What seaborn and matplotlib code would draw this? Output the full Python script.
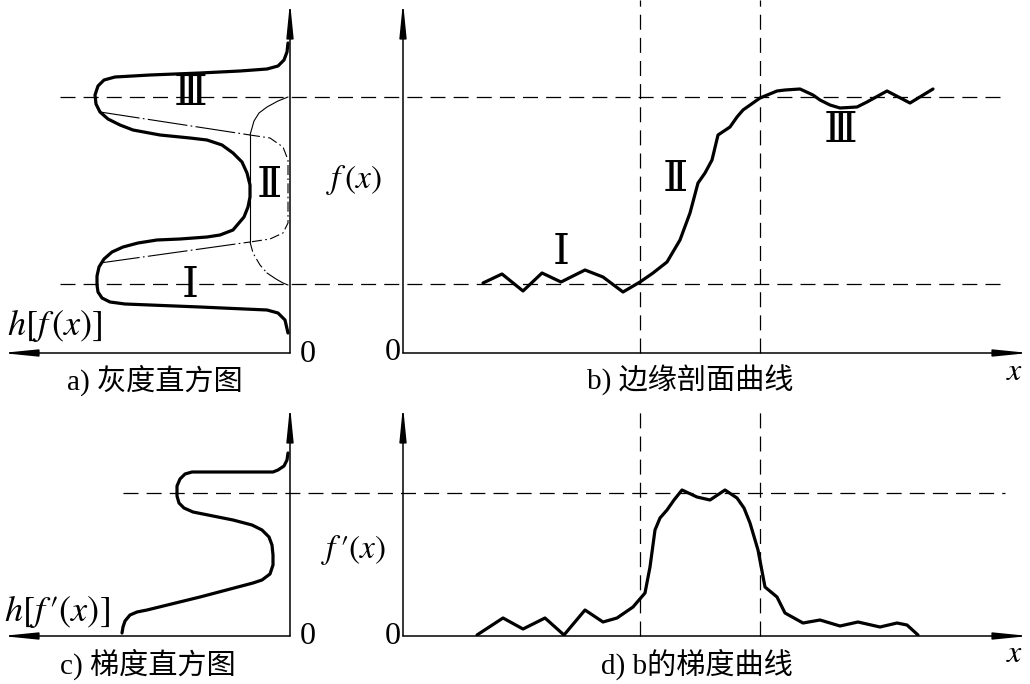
import matplotlib
matplotlib.use('Agg')
import matplotlib.pyplot as plt
import seaborn as sns

# a) grey level histogram: h (to the left) vs grey level f
hist_h = [0.02, 0.03, 0.06, 0.12, 0.23, 0.50, 0.90, 1.40, 1.75, 1.86, 1.92, 1.95, 1.94, 1.90, 1.82, 1.70,
          1.57, 1.30, 1.00, 0.83, 0.68, 0.57, 0.48, 0.43, 0.40, 0.40, 0.42, 0.46, 0.57, 0.70, 0.83, 1.10,
          1.33, 1.52, 1.67, 1.78, 1.86, 1.91, 1.93, 1.93, 1.92, 1.88, 1.80, 1.65, 0.90, 0.23, 0.12, 0.05,
          0.02]
hist_f = [3.10, 3.01, 2.93, 2.87, 2.84, 2.82, 2.80, 2.78, 2.76, 2.73, 2.67, 2.58, 2.49, 2.41, 2.34, 2.28,
          2.23, 2.18, 2.15, 2.13, 2.08, 2.00, 1.91, 1.80, 1.68, 1.56, 1.46, 1.36, 1.23, 1.18, 1.16, 1.14,
          1.13, 1.10, 1.06, 1.01, 0.94, 0.86, 0.77, 0.68, 0.61, 0.55, 0.51, 0.49, 0.46, 0.43, 0.40, 0.33,
          0.20]
# thin construction lines of region II inside the histogram
tan_top_h = [1.90, 0.40]
tan_top_f = [2.41, 2.18]
tan_bot_h = [1.90, 0.40]
tan_bot_f = [0.90, 1.11]
arc_top_h = [0.02, 0.12, 0.23, 0.31, 0.36, 0.40]
arc_top_f = [2.56, 2.52, 2.46, 2.40, 2.32, 2.18]
bump_h = [0.40, 0.20, 0.07, 0.02, 0.02, 0.07, 0.20, 0.40]
bump_f = [2.18, 2.15, 2.06, 1.93, 1.30, 1.20, 1.14, 1.11]
side_h = [0.40, 0.40]
side_f = [2.18, 1.11]
arc_bot_h = [0.40, 0.37, 0.30, 0.23]
arc_bot_f = [1.11, 1.00, 0.88, 0.80]
arc_bot2_h = [0.23, 0.14, 0.07, 0.02]
arc_bot2_f = [0.80, 0.74, 0.70, 0.68]

# b) edge profile
edge_x = [0.80, 0.99, 1.20, 1.39, 1.58, 1.82, 2.00, 2.20, 2.37, 2.50, 2.64, 2.77, 2.87, 2.95, 3.02, 3.09,
          3.15, 3.27, 3.34, 3.40, 3.57, 3.74, 3.82, 3.97, 4.10, 4.17, 4.27, 4.37, 4.54, 4.64, 4.84, 5.07,
          5.30]
edge_f = [0.70, 0.79, 0.62, 0.80, 0.71, 0.83, 0.76, 0.61, 0.71, 0.80, 0.91, 1.13, 1.40, 1.70, 1.80, 1.93,
          2.18, 2.26, 2.36, 2.43, 2.55, 2.62, 2.63, 2.64, 2.58, 2.53, 2.48, 2.45, 2.46, 2.51, 2.62, 2.50,
          2.64]
levels_f = [0.69, 2.56]
edge_bounds = [2.37, 3.57]

# c) gradient histogram
ghist_h = [0.02, 0.03, 0.06, 0.12, 0.17, 0.98, 1.05, 1.10, 1.13, 1.13, 1.11, 1.06, 0.97, 0.57, 0.38, 0.28,
           0.21, 0.18, 0.17, 0.17, 0.20, 0.28, 0.37, 0.90, 1.43, 1.53, 1.60, 1.65, 1.67, 1.68]
ghist_g = [1.83, 1.76, 1.70, 1.66, 1.64, 1.64, 1.62, 1.57, 1.50, 1.40, 1.33, 1.28, 1.24, 1.16, 1.11, 1.06,
           0.99, 0.91, 0.81, 0.71, 0.62, 0.56, 0.53, 0.39, 0.26, 0.24, 0.21, 0.15, 0.09, 0.03]

# d) gradient of b
grad_x = [0.74, 1.00, 1.20, 1.42, 1.61, 1.82, 2.00, 2.14, 2.30, 2.42, 2.47, 2.52, 2.57, 2.64, 2.71, 2.79,
          2.94, 3.07, 3.22, 3.34, 3.41, 3.47, 3.55, 3.62, 3.74, 3.82, 4.00, 4.17, 4.37, 4.55, 4.77, 4.94,
          5.04, 5.15]
grad_g = [0.01, 0.18, 0.07, 0.18, 0.01, 0.26, 0.14, 0.18, 0.29, 0.43, 0.69, 1.06, 1.18, 1.26, 1.36, 1.46,
          1.39, 1.36, 1.46, 1.38, 1.28, 1.13, 0.86, 0.49, 0.39, 0.23, 0.13, 0.16, 0.10, 0.14, 0.09, 0.13,
          0.11, 0.01]
peak_g = [1.43]

sns.set_theme(style='white')
plt.rcParams['font.family'] = ['Liberation Serif', 'DejaVu Serif', 'Noto Sans CJK SC']
plt.rcParams['mathtext.fontset'] = 'stix'

W, H = 1030, 684


def box(x0, y0, x1, y1):
    return [x0 / W, 1 - y1 / H, (x1 - x0) / W, (y1 - y0) / H]


def put(x, y, s, size=21, **kw):
    fig.text(x / W, 1 - y / H, s, ha='center', va='center', fontsize=size, color='black', **kw)


def arrow(ax, start, end):
    ax.annotate('', xy=end, xytext=start, annotation_clip=False,
                arrowprops=dict(arrowstyle='-|>,head_length=1.5,head_width=0.15', color='black',
                                lw=1.1, shrinkA=0, shrinkB=0, mutation_scale=14))


def curve(ax, x, y, lw=2.3, ls='-'):
    sns.lineplot(x=x, y=y, sort=False, estimator=None, ax=ax, color='black', lw=lw,
                 linestyle=ls, solid_joinstyle='round', solid_capstyle='round')


fig = plt.figure(figsize=(10.30, 6.84), dpi=100)
ax_a = fig.add_axes(box(0, 0, 290, 353))
ax_b = fig.add_axes(box(403, 0, 1030, 353))
ax_c = fig.add_axes(box(0, 405, 290, 636))
ax_d = fig.add_axes(box(403, 405, 1030, 636))

for ax in (ax_a, ax_c):
    ax.set_xlim(2.90, 0)
for ax in (ax_b, ax_d):
    ax.set_xlim(0, 6.27)
ax_a.set_ylim(0, 3.53)
ax_b.set_ylim(0, 3.53)
ax_c.set_ylim(0, 2.31)
ax_d.set_ylim(0, 2.31)
for ax in (ax_a, ax_b, ax_c, ax_d):
    ax.set_axis_off()
    ax.patch.set_alpha(0)

dash = dict(colors='black', lw=0.9, linestyles=[(0, (12, 6.5))], clip_on=False)
dashdot = (0, (9, 3, 1.5, 3))

# panel a
arrow(ax_a, (0, 0), (0, 3.51))
arrow(ax_a, (0, 0), (2.88, 0))
curve(ax_a, hist_h, hist_f)
curve(ax_a, tan_top_h, tan_top_f, lw=0.8, ls=(0, (36, 3, 1.5, 3)))
curve(ax_a, tan_bot_h, tan_bot_f, lw=0.8, ls=(0, (36, 3, 1.5, 3)))
curve(ax_a, arc_top_h, arc_top_f, lw=0.8)
curve(ax_a, bump_h, bump_f, lw=0.8, ls=dashdot)
curve(ax_a, side_h, side_f, lw=0.8)
curve(ax_a, arc_bot_h, arc_bot_f, lw=0.8, ls=dashdot)
curve(ax_a, arc_bot2_h, arc_bot2_f, lw=0.8)

# panel b
arrow(ax_b, (0, 0), (0, 3.51))
arrow(ax_b, (0, 0), (6.26, 0))
ax_b.hlines(levels_f, -3.43, 6.02, **dash)
ax_b.vlines(edge_bounds, 0, 3.53, **dash)
curve(ax_b, edge_x, edge_f)

# panel c
arrow(ax_c, (0, 0), (0, 2.30))
arrow(ax_c, (0, 0), (2.88, 0))
curve(ax_c, ghist_h, ghist_g)

# panel d
arrow(ax_d, (0, 0), (0, 2.30))
arrow(ax_d, (0, 0), (6.26, 0))
ax_d.hlines(peak_g, -2.80, 6.02, **dash)
ax_d.vlines(edge_bounds, 0, 2.31, **dash)
curve(ax_d, grad_x, grad_g)

# texts
put(155, 380, 'a) 灰度直方图')
put(690, 380, 'b) 边缘剖面曲线')
put(148, 664, 'c) 梯度直方图')
put(697, 664, 'd) b的梯度曲线')
put(55, 325, r'$h[f\,(x)]$', 26)
put(57, 612, r'$h[f\,\prime(x)]$', 26)
put(354, 180, r'$f\,(x)$', 24)
put(354, 550, r'$f\,\prime(x)$', 24)
for x, y in [(308, 354), (308, 637), (393, 353), (393, 636)]:
    put(x, y, '0', 23)
put(1015, 372, r'$x$', 23)
put(1015, 655, r'$x$', 23)
put(191, 95, 'Ⅲ', 31)
put(269, 187, 'Ⅱ', 31)
put(190, 287, 'Ⅰ', 31)
put(561, 254, 'Ⅰ', 31)
put(675, 181, 'Ⅱ', 31)
put(840, 132, 'Ⅲ', 31)

fig.savefig('out.png', dpi=100, facecolor='white')
